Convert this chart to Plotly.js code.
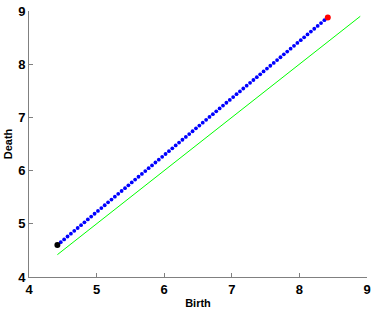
<!DOCTYPE html>
<html>
<head>
<meta charset="utf-8">
<script src="https://cdn.plot.ly/plotly-3.0.1.min.js"></script>
<style>html,body{margin:0;padding:0;background:#fff;}#chart{width:374px;height:309px;}</style>
</head>
<body>
<div id="chart"></div>
<script>
const birth = [4.42,4.47,4.52,4.57,4.62,4.67,4.72,4.77,4.82,4.87,
4.92,4.97,5.02,5.07,5.12,5.17,5.22,5.27,5.32,5.37,
5.42,5.47,5.52,5.57,5.62,5.67,5.72,5.77,5.82,5.87,
5.92,5.97,6.02,6.07,6.12,6.17,6.22,6.27,6.32,6.37,
6.42,6.47,6.52,6.57,6.62,6.67,6.72,6.77,6.82,6.87,
6.92,6.97,7.02,7.07,7.12,7.17,7.22,7.27,7.32,7.37,
7.42,7.47,7.52,7.57,7.62,7.67,7.72,7.77,7.82,7.87,
7.92,7.97,8.02,8.07,8.12,8.17,8.22,8.27,8.32,8.37,
8.42];
const death = [4.600,4.654,4.707,4.761,4.814,4.868,4.921,4.975,5.028,5.082,
5.135,5.189,5.242,5.296,5.349,5.403,5.456,5.510,5.563,5.617,
5.670,5.724,5.777,5.831,5.884,5.938,5.991,6.045,6.098,6.152,
6.205,6.259,6.312,6.366,6.419,6.473,6.526,6.580,6.633,6.687,
6.740,6.794,6.847,6.901,6.954,7.008,7.061,7.115,7.168,7.222,
7.275,7.329,7.382,7.436,7.489,7.543,7.596,7.650,7.703,7.757,
7.810,7.864,7.917,7.971,8.024,8.078,8.131,8.185,8.238,8.292,
8.345,8.399,8.452,8.506,8.559,8.613,8.666,8.720,8.773,8.827,
8.880];
const diagonalX = [4.42, 8.9];
const diagonalY = [4.42, 8.9];
const startPoint = {x: [4.42], y: [4.60]};
const endPoint = {x: [8.42], y: [8.88]};
const tickVals = [4,5,6,7,8,9];

const traces = [
  {x: diagonalX, y: diagonalY, mode: 'lines', line: {color: '#00ff00', width: 1}, hoverinfo: 'skip'},
  {x: birth, y: death, mode: 'markers', marker: {color: '#0000ff', size: 3.8}},
  {x: startPoint.x, y: startPoint.y, mode: 'markers', marker: {color: '#000000', size: 6}},
  {x: endPoint.x, y: endPoint.y, mode: 'markers', marker: {color: '#ff0000', size: 6}}
];

const axisCommon = {
  showgrid: false, zeroline: false, showline: true, linecolor: '#808080', linewidth: 1,
  ticks: 'inside', ticklen: 4, tickcolor: '#808080', tickwidth: 1,
  tickvals: tickVals, ticktext: tickVals.map(String),
  tickfont: {family: 'Liberation Sans, Arial, sans-serif', size: 13, color: '#000', weight: 'bold'},
  mirror: false, automargin: false
};

const layout = {
  width: 374, height: 309,
  margin: {l: 29, r: 7, t: 11, b: 32},
  paper_bgcolor: '#fff', plot_bgcolor: '#fff',
  showlegend: false,
  xaxis: Object.assign({}, axisCommon, {range: [4, 9],
    title: {text: 'Birth', font: {family: 'Liberation Sans, Arial, sans-serif', size: 11, color: '#000', weight: 'bold'}, standoff: 3}}),
  yaxis: Object.assign({}, axisCommon, {range: [4, 9],
    title: {text: 'Death', font: {family: 'Liberation Sans, Arial, sans-serif', size: 11, color: '#000', weight: 'bold'}, standoff: 3}})
};

Plotly.newPlot('chart', traces, layout, {displayModeBar: false, staticPlot: true});
</script>
</body>
</html>
